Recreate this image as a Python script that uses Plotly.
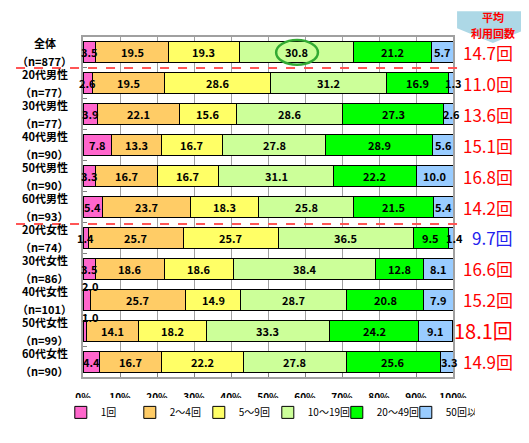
import plotly.graph_objects as go

groups = ["全体", "20代男性", "30代男性", "40代男性", "50代男性", "60代男性",
          "20代女性", "30代女性", "40代女性", "50代女性", "60代女性"]
counts = ["n=877", "n=77", "n=77", "n=90", "n=90", "n=93",
          "n=74", "n=86", "n=101", "n=99", "n=90"]

cat_names = ["1回", "2～4回", "5～9回", "10～19回", "20～49回", "50回以上"]
cat_colors = ["#FF66CC", "#FFCC66", "#FFFF66", "#CCFF99", "#00FF00", "#99CCFF"]

once = [3.5, 2.6, 3.9, 7.8, 3.3, 5.4, 1.4, 3.5, 2.0, 1.0, 4.4]
two_four = [19.5, 19.5, 22.1, 13.3, 16.7, 23.7, 25.7, 18.6, 25.7, 14.1, 16.7]
five_nine = [19.3, 28.6, 15.6, 16.7, 16.7, 18.3, 25.7, 18.6, 14.9, 18.2, 22.2]
ten_19 = [30.8, 31.2, 28.6, 27.8, 31.1, 25.8, 36.5, 38.4, 28.7, 33.3, 27.8]
twenty_49 = [21.2, 16.9, 27.3, 28.9, 22.2, 21.5, 9.5, 12.8, 20.8, 24.2, 25.6]
fifty_up = [5.7, 1.3, 2.6, 5.6, 10.0, 5.4, 1.4, 8.1, 7.9, 9.1, 3.3]

avg_uses = [14.7, 11.0, 13.6, 15.1, 16.8, 14.2, 9.7, 16.6, 15.2, 18.1, 14.9]

series = [once, two_four, five_nine, ten_19, twenty_49, fifty_up]
rows = list(range(len(groups)))
FONT = "Noto Sans CJK JP"

fig = go.Figure()
for name, color, vals in zip(cat_names, cat_colors, series):
    fig.add_trace(go.Bar(
        y=rows, x=vals, name=name, orientation="h", width=0.68,
        marker=dict(color=color, line=dict(color="black", width=1)),
    ))
# empty spacer entry so the last legend label is not clipped
fig.add_trace(go.Bar(
    y=[0], x=[0], name=" ", orientation="h", hoverinfo="skip",
    marker=dict(color="rgba(0,0,0,0)", line=dict(width=0)),
))

# value labels, centred in each segment (small ones shifted as in the original)
annotations = []
for i in rows:
    left = 0
    for k, vals in enumerate(series):
        v = vals[i]
        mid = left + v / 2
        xs, ys = 0, 0
        if k == 0 and v <= 2.0 and v != 1.4:
            mid, ys = 2.0, 14
        if k == 5 and v < 4:
            xs = 3
        annotations.append(dict(
            x=mid, y=i, text=f"{v:.1f}", showarrow=False, xshift=xs, yshift=ys,
            font=dict(size=11, color="black", family=FONT, weight="bold"),
        ))
        left += v

# group labels on the left
for i in rows:
    annotations.append(dict(
        x=-0.103, xref="paper", y=i, yshift=9, text=groups[i],
        showarrow=False, xanchor="center", yanchor="middle",
        font=dict(size=11, color="black", family=FONT, weight="bold"),
    ))
    annotations.append(dict(
        x=-0.103, xref="paper", y=i, yshift=-9, text=f"（{counts[i]}）",
        showarrow=False, xanchor="center", yanchor="middle",
        font=dict(size=11, color="black", family=FONT, weight="bold"),
    ))

# average usage on the right
for i in rows:
    big = avg_uses[i] == max(avg_uses)
    col = "#2222EE" if avg_uses[i] == min(avg_uses) else "#FF0000"
    annotations.append(dict(
        x=1.168, xref="paper", y=i, text=f"{avg_uses[i]:.1f}回",
        showarrow=False, xanchor="right", yanchor="middle",
        font=dict(size=20 if big else 17, color=col, family=FONT),
    ))

for txt, yp in [("平均", 1.059), ("利用回数", 1.012)]:
    annotations.append(dict(
        x=1.108, xref="paper", y=yp, yref="paper", text=txt,
        showarrow=False, xanchor="center", yanchor="middle",
        font=dict(size=11, color="#FF0000", family=FONT, weight="bold"),
    ))

shapes = [
    # header arrow box
    dict(type="path", xref="paper", yref="paper",
         path="M 1.011 1.076 L 1.205 1.076 L 1.205 1.026 L 1.108 0.982 L 1.011 1.026 Z",
         fillcolor="#ADD8E6", line=dict(width=0), layer="below"),
    # separators
    dict(type="line", xref="paper", yref="y", x0=-0.181, x1=1.014, y0=0.5, y1=0.5,
         line=dict(color="#FF5555", width=2, dash="dash")),
    dict(type="line", xref="paper", yref="y", x0=-0.181, x1=1.014, y0=5.55, y1=5.55,
         line=dict(color="#FF5555", width=2, dash="dash")),
    # highlight circle
    dict(type="circle", xref="x", yref="y", x0=52.2, x1=63.5, y0=-0.40, y1=0.40,
         line=dict(color="#33AA33", width=2.5)),
]

fig.update_layout(
    width=529, height=443,
    margin=dict(l=75, r=84, t=29, b=74, autoexpand=False),
    barmode="stack",
    plot_bgcolor="white", paper_bgcolor="white",
    font=dict(family=FONT, color="black"),
    showlegend=True,
    legend=dict(orientation="h", x=-0.06, y=-0.132, xanchor="left", yanchor="middle",
                font=dict(size=10, family=FONT), traceorder="normal",
                itemwidth=30, tracegroupgap=0,
                entrywidth=24, entrywidthmode="pixels"),
    annotations=annotations,
    shapes=shapes,
)
fig.update_xaxes(
    range=[0, 100], tickvals=list(range(0, 101, 10)),
    ticktext=[f"{t}%" for t in range(0, 101, 10)],
    showgrid=True, gridcolor="#A0A0A0", gridwidth=1,
    showline=True, linecolor="#A0A0A0", linewidth=2, mirror=True,
    ticks="inside", ticklen=4, tickcolor="#808080",
    tickfont=dict(size=10, family=FONT, weight="bold"), ticklabelstandoff=10,
    zeroline=False, fixedrange=True,
)
fig.update_yaxes(
    range=[10.5, -0.5], tickvals=[r + 0.5 for r in range(-1, 11)],
    ticktext=[""] * 12, showgrid=False,
    showline=True, linecolor="#A0A0A0", linewidth=2, mirror=True,
    ticks="inside", ticklen=4, tickcolor="#808080",
    zeroline=False, fixedrange=True,
)

fig.write_html("out.html")
